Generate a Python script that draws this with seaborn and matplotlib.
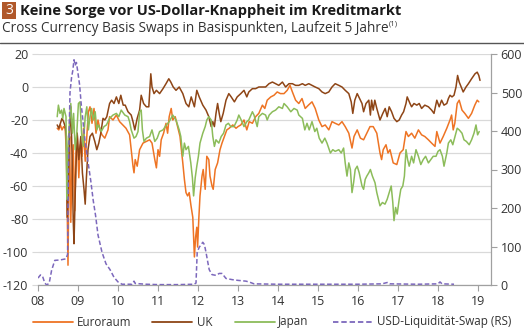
import matplotlib
matplotlib.use("Agg")
import matplotlib.pyplot as plt
import matplotlib.patches as mpatches
from matplotlib.lines import Line2D
import seaborn as sns
import pandas as pd

# ---------------- data ----------------
eu_t = [2008.48,2008.52,2008.56,2008.60,2008.64,2008.68,2008.71,2008.73,2008.75,2008.77,2008.79,2008.82,2008.85,2008.88,2008.92,2008.95,2008.98,2009.02,2009.06,2009.10,2009.14,2009.18,2009.22,2009.26,2009.30,2009.35,2009.40,2009.45,2009.50,
        2009.55,2009.60,2009.67,2009.75,2009.79,2009.875,2009.96,2010.04,2010.12,2010.20,2010.29,2010.33,2010.375,2010.40,2010.43,2010.48,2010.54,2010.625,2010.71,2010.79,2010.85,2010.92,2010.96,2011.00,2011.04,2011.08,2011.14,2011.20,
        2011.24,2011.28,2011.33,2011.37,2011.43,2011.49,2011.55,2011.62,2011.66,2011.70,2011.74,2011.78,2011.825,2011.87,2011.91,2011.94,2011.97,2011.99,2012.02,2012.05,2012.10,2012.13,2012.18,2012.22,2012.27,2012.30,2012.35,2012.38,2012.43,2012.49,2012.55,2012.60,2012.66,2012.72,2012.78,2012.87,2012.95,
        2013.00,2013.07,2013.15,2013.22,2013.28,2013.36,2013.44,2013.52,2013.61,2013.67,2013.73,2013.82,2013.90,2013.98,2014.06,2014.15,2014.23,2014.30,2014.36,2014.44,2014.52,2014.60,2014.68,2014.76,2014.85,2014.93,2015.02,2015.10,2015.18,2015.27,2015.35,2015.43,2015.52,2015.60,2015.68,2015.77,2015.85,2015.90,2015.98,2016.06,2016.14,2016.22,2016.30,
        2016.38,2016.47,2016.55,2016.59,2016.63,2016.70,2016.75,2016.80,2016.88,2016.97,2017.05,2017.13,2017.20,2017.26,2017.34,2017.42,2017.51,2017.59,2017.67,2017.76,2017.84,2017.925,2017.97,2018.05,2018.13,2018.22,2018.30,2018.34,2018.38,2018.42,2018.48,2018.53,2018.60,2018.67,2018.76,2018.84,2018.92,2018.98,2019.02]
eu_v = [-25,-26,-23,-26,-24,-25,-40,-75,-108,-60,-30,-82,-50,-35,-75,-40,-28,-55,-35,-42,-25,-45,-30,-15,-12,-22,-13,-28,-20,
        -26,-29,-31,-26,-18,-20,-17,-21,-23,-25,-29,-38,-48,-52,-44,-48,-38,-34,-33,-32,-34,-44,-49,-38,-42,-32,-28,-22,
        -28,-18,-13,-20,-18,-24,-30,-46,-56,-64,-66,-64,-72,-79,-103,-91,-85,-97,-80,-66,-54,-50,-62,-42,-44,-54,-60,-62,-50,-46,-38,-34,-30,-26,-25,-23,-25,
        -24,-23,-20,-26,-21,-22,-18,-16,-11,-13,-8,-6,-5,-3,-4,-4,-2,1,-3,-8,-10,-7,-13,-11,-9,-13,-20,-24,-23,-26,-21,-22,-23,-21,-24,-28,-37,-30,-26,-31,-32,-28,-24,
        -24,-28,-40,-44,-38,-35,-40,-38,-46,-47,-40,-38,-27,-30,-28,-31,-26,-29,-30,-32,-34,-36,-27,-34,-30,-25,-20,-17,-26,-22,-10,-8,-14,-16,-19,-16,-11,-8,-9]

uk_t = [2008.48,2008.52,2008.56,2008.60,2008.64,2008.68,2008.71,2008.73,2008.76,2008.79,2008.82,2008.85,2008.88,2008.90,2008.93,2008.96,2008.98,2009.02,2009.07,2009.11,2009.15,2009.18,2009.21,2009.25,2009.30,2009.36,2009.42,2009.47,2009.52,2009.57,2009.625,2009.67,2009.72,2009.79,2009.84,2009.90,2009.96,2010.02,2010.07,2010.13,2010.18,2010.25,2010.33,2010.375,2010.42,2010.48,2010.54,2010.58,2010.64,2010.71,2010.77,2010.82,2010.85,2010.90,2010.96,2011.04,2011.125,
        2011.20,2011.27,2011.32,2011.38,2011.45,2011.53,2011.62,2011.70,2011.77,2011.83,2011.91,2011.97,2012.03,2012.12,2012.20,2012.27,2012.33,2012.37,2012.41,2012.45,2012.49,2012.53,2012.57,2012.63,2012.70,2012.77,2012.83,2012.91,2012.98,
        2013.07,2013.15,2013.22,2013.27,2013.36,2013.44,2013.52,2013.61,2013.69,2013.775,2013.86,2013.94,2014.02,2014.11,2014.19,2014.275,2014.36,2014.44,2014.52,2014.61,2014.68,2014.77,2014.85,2014.93,2015.02,2015.10,2015.18,2015.27,2015.35,2015.43,2015.52,2015.60,2015.68,2015.77,2015.83,2015.87,2015.92,2015.98,2016.04,2016.10,2016.14,2016.20,2016.27,2016.31,
        2016.34,2016.38,2016.42,2016.47,2016.55,2016.62,2016.68,2016.73,2016.78,2016.84,2016.90,2016.97,2017.03,2017.09,2017.14,2017.20,2017.23,2017.30,2017.34,2017.40,2017.47,2017.53,2017.59,2017.67,2017.76,2017.84,2017.90,2017.97,2018.03,2018.09,2018.15,2018.22,2018.26,2018.30,2018.35,2018.40,2018.45,2018.49,2018.53,2018.58,2018.63,2018.70,2018.76,2018.84,2018.925,2018.98,2019.02,2019.05]
uk_v = [-23,-25,-22,-19,-21,-24,-30,-79,-55,-25,-12,-40,-80,-95,-65,-40,-28,-44,-30,-52,-62,-71,-55,-38,-30,-28,-33,-38,-34,-28,-19,-20,-18,-10,-8,-10,-6,-10,-5,-11,-11,-15,-17,-21,-26,-19,-14,-5,-10,-12,-12,8,0,-4,-2,-4,-1,
        2,5,3,0,-2,0,-4,-10,-12,-6,-12,-2,-6,-11,-14,-18,-24,-21,-24,-16,-10,-16,-21,-16,-8,-4,-6,-9,-6,
        -4,-2,-6,-3,-1,-1,0,0,0,2,3,2,1,3,0,2,2,1,1,2,1,2,1,0,-1,-3,-4,-3,0,2,1,0,-2,-4,-9,-16,-8,-4,-7,-10,-15,-10,-8,-17,
        -8,-14,-8,-13,-20,-16,-13,-18,-12,-15,-19,-21,-20,-17,-15,-10,-6,-10,-12,-10,-11,-10,-13,-11,-12,-14,-16,-8,-12,-8,-11,-10,-7,-5,-6,-5,0,7,3,0,-3,0,2,5,8,9,7,4]

jp_t = [2008.48,2008.51,2008.55,2008.59,2008.62,2008.65,2008.70,2008.72,2008.745,2008.78,2008.82,2008.86,2008.89,2008.93,2008.97,2009.01,2009.05,2009.09,2009.13,2009.18,2009.22,2009.26,2009.30,2009.34,2009.38,2009.43,2009.47,2009.51,2009.55,2009.58,2009.65,2009.71,2009.79,2009.875,2009.96,2010.02,2010.08,2010.17,2010.25,2010.29,2010.33,2010.40,2010.45,2010.50,2010.54,2010.58,2010.61,2010.65,2010.71,2010.79,2010.85,2010.92,2010.98,2011.04,2011.125,
        2011.21,2011.28,2011.37,2011.45,2011.53,2011.57,2011.62,2011.66,2011.70,2011.76,2011.82,2011.86,2011.89,2011.93,2011.97,2012.01,2012.05,2012.12,2012.18,2012.22,2012.27,2012.33,2012.37,2012.41,2012.45,2012.52,2012.58,2012.64,2012.70,2012.76,2012.82,2012.90,2012.98,
        2013.02,2013.08,2013.15,2013.22,2013.27,2013.36,2013.40,2013.48,2013.52,2013.61,2013.69,2013.73,2013.78,2013.86,2013.94,2014.02,2014.11,2014.15,2014.23,2014.32,2014.40,2014.48,2014.52,2014.61,2014.67,2014.725,2014.78,2014.85,2014.92,2014.97,2015.03,2015.10,2015.17,2015.225,2015.31,2015.37,2015.43,2015.52,2015.58,2015.64,2015.68,2015.725,2015.77,2015.81,2015.85,2015.89,2015.93,2015.98,2016.03,2016.10,2016.14,2016.18,2016.22,2016.27,2016.31,
        2016.36,2016.425,2016.47,2016.51,2016.55,2016.61,2016.675,2016.73,2016.78,2016.83,2016.87,2016.90,2016.94,2016.98,2017.03,2017.07,2017.12,2017.16,2017.20,2017.24,2017.28,2017.34,2017.39,2017.45,2017.51,2017.57,2017.63,2017.69,2017.76,2017.82,2017.88,2017.95,2018.00,2018.05,2018.11,2018.15,2018.22,2018.26,2018.32,2018.37,2018.425,2018.48,2018.53,2018.60,2018.65,2018.71,2018.78,2018.84,2018.90,2018.95,2018.99,2019.03]
jp_v = [-18,-11,-16,-14,-19,-13,-18,-68,-38,-24,-10,-28,-16,-38,-28,-10,-9,-28,-36,-18,-12,-26,-18,-13,-20,-15,-26,-23,-25,-27,-24,-23,-19,-17,-16,-18,-14,-17,-18,-21,-26,-31,-30,-27,-15,-14,-26,-33,-31,-30,-26,-33,-31,-27,-26,
        -23,-21,-17,-20,-26,-30,-42,-34,-38,-36,-46,-55,-66,-55,-48,-42,-34,-28,-24,-20,-18,-20,-30,-36,-32,-34,-30,-28,-23,-22,-24,-24,-20,
        -17,-20,-24,-21,-20,-15,-17,-24,-18,-16,-17,-20,-17,-15,-14,-12,-13,-10,-12,-15,-13,-14,-17,-19,-26,-22,-26,-21,-27,-25,-31,-34,-31,-34,-40,-38,-39,-38,-40,-37,-46,-54,-46,-50,-64,-58,-50,-48,-52,-60,-62,-56,-54,-52,-50,
        -54,-58,-64,-68,-72,-70,-71,-68,-64,-60,-70,-81,-73,-77,-68,-62,-60,-54,-38,-44,-48,-42,-46,-38,-42,-47,-44,-42,-46,-44,-42,-42,-39,-38,-42,-48,-40,-34,-32,-35,-30,-25,-26,-28,-32,-33,-35,-32,-28,-23,-29,-27]

usd_t = [2008.00,2008.06,2008.11,2008.17,2008.22,2008.28,2008.34,2008.42,2008.55,2008.70,2008.74,2008.76,2008.80,2008.84,2008.87,2008.90,2008.93,2008.96,2009.00,2009.04,2009.08,2009.13,2009.18,2009.25,2009.32,2009.38,2009.44,2009.50,2009.60,2009.70,2009.80,2009.90,2010.00,2010.10,2010.35,2010.40,2010.43,2010.70,2011.00,2011.50,2011.90,2011.95,2011.98,2012.03,2012.08,2012.12,2012.16,2012.20,2012.24,2012.28,2012.35,2012.45,2012.53,2012.60,2012.70,2012.85,2013.00,2013.20,2013.30,2013.40,2014.00,2015.00,2016.00,2016.60,2016.75,2016.80,2017.50,2018.00,2018.05,2018.10,2018.40]
usd_v = [18,26,24,5,0,5,38,64,65,68,80,300,500,540,557,585,570,578,550,520,470,420,370,320,270,220,180,130,85,55,40,20,8,2,2,10,4,2,1,1,2,5,85,98,105,111,105,85,62,40,27,25,30,30,17,14,12,10,7,3,2,2,2,3,7,3,2,3,8,3,2]

labels = ["Euroraum", "UK", "Japan", "USD-Liquidität-Swap (RS)"]
year_ticks = list(range(2008, 2020))
year_labels = ["08", "09", "10", "11", "12", "13", "14", "15", "16", "17", "18", "19"]
left_ticks = [20, 0, -20, -40, -60, -80, -100, -120]
right_ticks = [0, 100, 200, 300, 400, 500, 600]

title = "Keine Sorge vor US-Dollar-Knappheit im Kreditmarkt"
subtitle = "Cross Currency Basis Swaps in Basispunkten, Laufzeit 5 Jahre"

# ---------------- style ----------------
sns.set_theme(style="white")
FONT = "Open Sans"
plt.rcParams["font.family"] = [FONT, "DejaVu Sans"]
TXT = "#333333"
C_EU = "#EE7424"
C_UK = "#8E4516"
C_JP = "#8CBC5A"
C_US = "#7C68BC"
GRID = "#D9D9D9"
AXC = "#A0A0A0"

W, H = 524, 330
fig = plt.figure(figsize=(W / 100, H / 100), dpi=100)
ax = fig.add_axes([38 / W, 1 - 285 / H, (491 - 38) / W, (285 - 54) / H])
ax2 = ax.twinx()

df_eu = pd.DataFrame({"t": eu_t, "v": eu_v})
df_uk = pd.DataFrame({"t": uk_t, "v": uk_v})
df_jp = pd.DataFrame({"t": jp_t, "v": jp_v})
df_us = pd.DataFrame({"t": usd_t, "v": usd_v})

lw = 1.1
sns.lineplot(data=df_eu, x="t", y="v", ax=ax, color=C_EU, lw=lw, zorder=3)
sns.lineplot(data=df_uk, x="t", y="v", ax=ax, color=C_UK, lw=lw, zorder=3)
sns.lineplot(data=df_jp, x="t", y="v", ax=ax, color=C_JP, lw=lw, zorder=3)
sns.lineplot(data=df_us, x="t", y="v", ax=ax2, color=C_US, lw=lw, zorder=3)
for l in ax2.get_lines():
    l.set_dashes([3, 1.6])

ax.set_xlim(2008, 2008 + (491 - 38) / 40)
ax.set_ylim(-120, 20)
ax2.set_ylim(0, 600)
ax.set_xticks(year_ticks)
ax.set_xticklabels(year_labels)
ax.set_yticks(left_ticks)
ax.set_yticklabels([str(v) for v in left_ticks])
ax2.set_yticks(right_ticks)
ax2.set_yticklabels([str(v) for v in right_ticks])
ax.set_xlabel("")
ax.set_ylabel("")
ax2.set_ylabel("")

ax.grid(axis="y", color=GRID, lw=0.9)
ax.set_axisbelow(True)
for a in (ax, ax2):
    for s in ("top", "left", "bottom", "right"):
        a.spines[s].set_visible(False)
ax.spines["bottom"].set_visible(True)
ax.spines["bottom"].set_color(AXC)
ax.spines["bottom"].set_linewidth(0.9)
ax2.spines["right"].set_visible(True)
ax2.spines["right"].set_color(AXC)
ax2.spines["right"].set_linewidth(0.9)

fs = 9
ax.tick_params(axis="x", direction="out", length=4, width=0.8, color=AXC, labelsize=fs, labelcolor=TXT, pad=3, bottom=True)
ax.tick_params(axis="y", direction="out", length=4, width=0.8, color=GRID, labelsize=fs, labelcolor=TXT, pad=3, left=True)
ax2.tick_params(axis="y", direction="out", length=4, width=0.8, color=AXC, labelsize=fs, labelcolor=TXT, pad=3, right=True)

# ---------------- header ----------------
fig.patches.append(mpatches.Rectangle((2 / W, 1 - 19 / H), 14 / W, 17 / H, transform=fig.transFigure,
                                      facecolor="#B0582A", edgecolor="none"))
fig.text(9 / W, 1 - 10.5 / H, "3", ha="center", va="center", color="white", fontsize=10, family=FONT)
fig.text(20 / W, 1 - 10.5 / H, title, ha="left", va="center", color="#1A1A1A", fontsize=10.55,
         fontweight="bold", family=FONT)
sub = fig.text(2 / W, 1 - 29 / H, subtitle, ha="left", va="center", color=TXT, fontsize=9.85, family=FONT)
fig.canvas.draw()
bb = sub.get_window_extent(fig.canvas.get_renderer())
fig.text(bb.x1 / W + 0.5 / W, 1 - 24 / H, "(1)", ha="left", va="center", color=TXT, fontsize=5.5, family=FONT)
fig.add_artist(Line2D([0, 1], [1 - 43 / H, 1 - 43 / H], transform=fig.transFigure, color="#555555", lw=1.0))

# ---------------- legend (manual placement) ----------------
leg_y = 1 - 322 / H
leg_items = [(33, 73, 77, C_EU, None), (152, 192, 197, C_UK, None),
             (235, 275, 278, C_JP, None), (333, 372, 377, C_US, [3, 1.6])]
for (x0, x1, xt, col, dash), lab in zip(leg_items, labels):
    ln = Line2D([x0 / W, x1 / W], [leg_y, leg_y], transform=fig.transFigure, color=col, lw=1.3)
    if dash:
        ln.set_dashes(dash)
    fig.add_artist(ln)
    fig.text(xt / W, leg_y, lab, ha="left", va="center", color=TXT, fontsize=8.4, family=FONT)

fig.savefig("out.png", dpi=100)
